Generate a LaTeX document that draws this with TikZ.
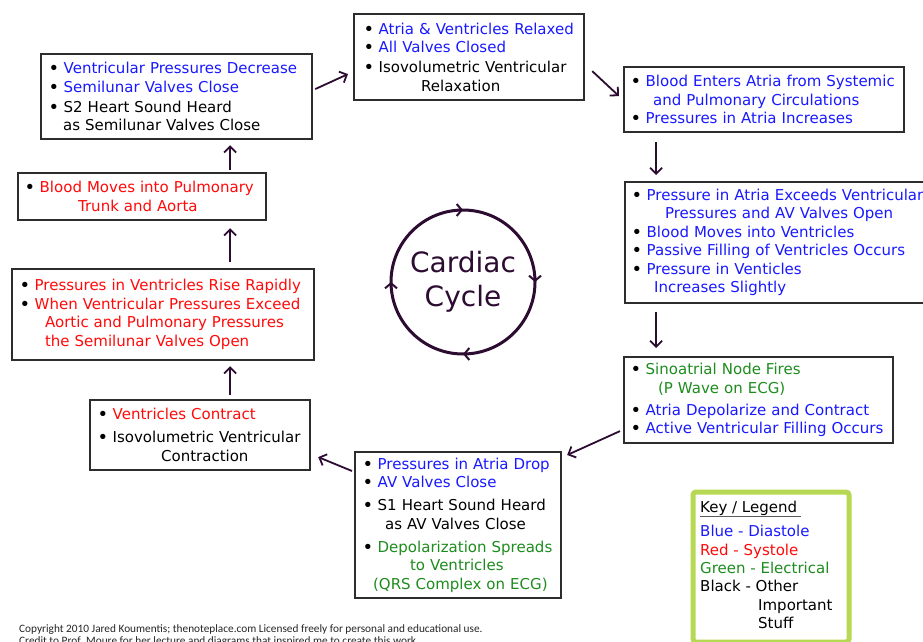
\documentclass[tikz,border=0pt]{standalone}
\usepackage{fontspec}
\setmainfont{DejaVu Sans}
\newfontfamily\notefont{Carlito}
\usetikzlibrary{arrows.meta,decorations.markings}

\definecolor{diast}{RGB}{25,25,255}
\definecolor{syst}{RGB}{255,10,10}
\definecolor{elec}{RGB}{30,140,30}
\definecolor{flow}{RGB}{45,12,50}
\definecolor{frame}{RGB}{45,45,45}
\definecolor{keyframe}{RGB}{182,216,82}
\definecolor{rulegray}{RGB}{90,90,90}

\newcommand\bul{\textbf{\textbullet}\ }
\newcommand\dia[1]{\textcolor{diast}{#1}}
\newcommand\sys[1]{\textcolor{syst}{#1}}
\newcommand\ele[1]{\textcolor{elec}{#1}}

\tikzset{
  stage/.style={draw=frame, line width=2.2pt, anchor=north west, align=left,
    inner ysep=0pt, font=\fontsize{15}{18.5}\selectfont},
  flowarrow/.style={draw=flow, line width=1.8pt,
    -{Straight Barb[length=6pt,width=12pt]}},
  cyclemark/.style={decoration={markings,
    mark=at position 0.125 with {\arrow{Straight Barb[length=5pt,width=12pt,line width=2pt]}},
    mark=at position 0.375 with {\arrow{Straight Barb[length=5pt,width=12pt,line width=2pt]}},
    mark=at position 0.625 with {\arrow{Straight Barb[length=5pt,width=12pt,line width=2pt]}},
    mark=at position 0.875 with {\arrow{Straight Barb[length=5pt,width=12pt,line width=2pt]}}},
    postaction={decorate}}
}

\begin{document}
\begin{tikzpicture}[x=1pt,y=-1pt]
\clip (0,0) rectangle (923,642);
\fill[white] (0,0) rectangle (923,642);

% stages of the cycle
\node[stage, minimum width=271, minimum height=85, inner xsep=8, text width=255] (b1) at (40,53) {%
\bul\dia{Ventricular Pressures Decrease}\\
\bul\dia{Semilunar Valves Close}\\[1.5pt]
\bul S2 Heart Sound Heard\\
\hspace*{14pt}as Semilunar Valves Close};

\node[stage, minimum width=230, minimum height=86, inner xsep=10, text width=210] (b2) at (353,13) {%
\bul\dia{Atria \& Ventricles Relaxed}\\
\bul\dia{All Valves Closed}\\[1.5pt]
\bul Isovolumetric Ventricular\\
\hspace*{57pt}Relaxation};

\node[stage, minimum width=280, minimum height=65, inner xsep=7, text width=266] (b3) at (623,66) {%
\bul\dia{Blood Enters Atria from Systemic}\\
\hspace*{22pt}\dia{and Pulmonary Circulations}\\
\bul\dia{Pressures in Atria Increases}};

\node[stage, minimum width=318, minimum height=121, inner xsep=7, text width=304] (b4) at (624,181) {%
\bul\dia{Pressure in Atria Exceeds Ventricular}\\
\hspace*{33pt}\dia{Pressures and AV Valves Open}\\
\bul\dia{Blood Moves into Ventricles}\\
\bul\dia{Passive Filling of Ventricles Occurs}\\
\bul\dia{Pressure in Venticles}\\
\hspace*{22pt}\dia{Increases Slightly}};

\node[stage, minimum width=269, minimum height=86, inner xsep=7, text width=255] (b5) at (623,356) {%
\bul\ele{Sinoatrial Node Fires}\\
\hspace*{27pt}\ele{(P Wave on ECG)}\\[3.5pt]
\bul\dia{Atria Depolarize and Contract}\\
\bul\dia{Active Ventricular Filling Occurs}};

\node[stage, minimum width=206, minimum height=146, inner xsep=8, text width=190] (b6) at (354,451) {%
\bul\dia{Pressures in Atria Drop}\\
\bul\dia{AV Valves Close}\\[4.5pt]
\bul S1 Heart Sound Heard\\
\hspace*{22pt}as AV Valves Close\\[4.5pt]
\bul\ele{Depolarization Spreads}\\
\hspace*{47pt}\ele{to Ventricles}\\
\hspace*{10pt}\ele{(QRS Complex on ECG)}};

\node[stage, minimum width=220, minimum height=70, inner xsep=8, text width=204] (b7) at (89,399) {%
\bul\sys{Ventricles Contract}\\[4.5pt]
\bul Isovolumetric Ventricular\\
\hspace*{63pt}Contraction};

\node[stage, minimum width=302, minimum height=91, inner xsep=8, text width=286] (b8) at (11,268) {%
\bul\sys{Pressures in Ventricles Rise Rapidly}\\
\bul\sys{When Ventricular Pressures Exceed}\\
\hspace*{25pt}\sys{Aortic and Pulmonary Pressures}\\
\hspace*{25pt}\sys{the Semilunar Valves Open}};

\node[stage, minimum width=248, minimum height=47, inner xsep=7, text width=234] (b9) at (17,172) {%
\bul\sys{Blood Moves into Pulmonary}\\
\hspace*{53pt}\sys{Trunk and Aorta}};

% connectors between the stages
\draw[flowarrow] ([shift={(2,-7.5)}]b1.east) -- ([shift={(-5,17)}]b2.west);
\draw[flowarrow] ([shift={(7,14)}]b2.east) -- ([shift={(-4,-3.5)}]b3.west);
\draw[flowarrow] ([shift={(-108,9)}]b3.south) -- ([shift={(-128,-6)}]b4.north);
\draw[flowarrow] ([shift={(-128,8)}]b4.south) -- ([shift={(-102.5,-8)}]b5.north);
\draw[flowarrow] ([shift={(-3,31)}]b5.west) -- ([shift={(5,4)}]b6.north east);
\draw[flowarrow] ([shift={(-2,20)}]b6.north west) -- ([shift={(7,22)}]b7.east);
\draw[flowarrow] ([shift={(30,-4)}]b7.north) -- ([shift={(67,5)}]b8.south);
\draw[flowarrow] ([shift={(67,-6)}]b8.north) -- ([shift={(88,7)}]b9.south);
\draw[flowarrow] ([shift={(88,-2)}]b9.north) -- ([shift={(53.5,5)}]b1.south);

% central cycle symbol
\node[text=flow, align=center, font=\fontsize{28}{34}\selectfont] (cyc) at (463,282) {Cardiac\\Cycle};
\draw[flow, line width=3pt, cyclemark] ([shift={(-135:72)}]cyc.center) arc[start angle=-135, end angle=225, radius=72];

% colour key
\node[draw=keyframe, line width=5pt, rounded corners=3pt, anchor=north west,
      minimum width=156, minimum height=150, inner sep=0pt] (key) at (690.5,489.5) {};
\node[anchor=north west, align=left, inner sep=0pt, font=\fontsize{15}{18.3}\selectfont] (keytext)
  at ([shift={(9.5,11)}]key.north west) {%
\rlap{\color{rulegray}\rule[-5pt]{101pt}{1.6pt}}Key / Legend\\[6.5pt]
\dia{Blue - Diastole}\\
\sys{Red - Systole}\\
\ele{Green - Electrical}\\
Black - Other\\
\hspace*{58pt}Important\\
\hspace*{58pt}Stuff};

% credits line
\node[anchor=base west, align=left, inner sep=0pt, font=\notefont\fontsize{11.3}{12}\selectfont, text=black!85] (credit) at (19,644.5) {%
Copyright 2010 Jared Koumentis; thenoteplace.com Licensed freely for personal and educational use.\\
Credit to Prof. Moure for her lecture and diagrams that inspired me to create this work.};
\end{tikzpicture}
\end{document}
